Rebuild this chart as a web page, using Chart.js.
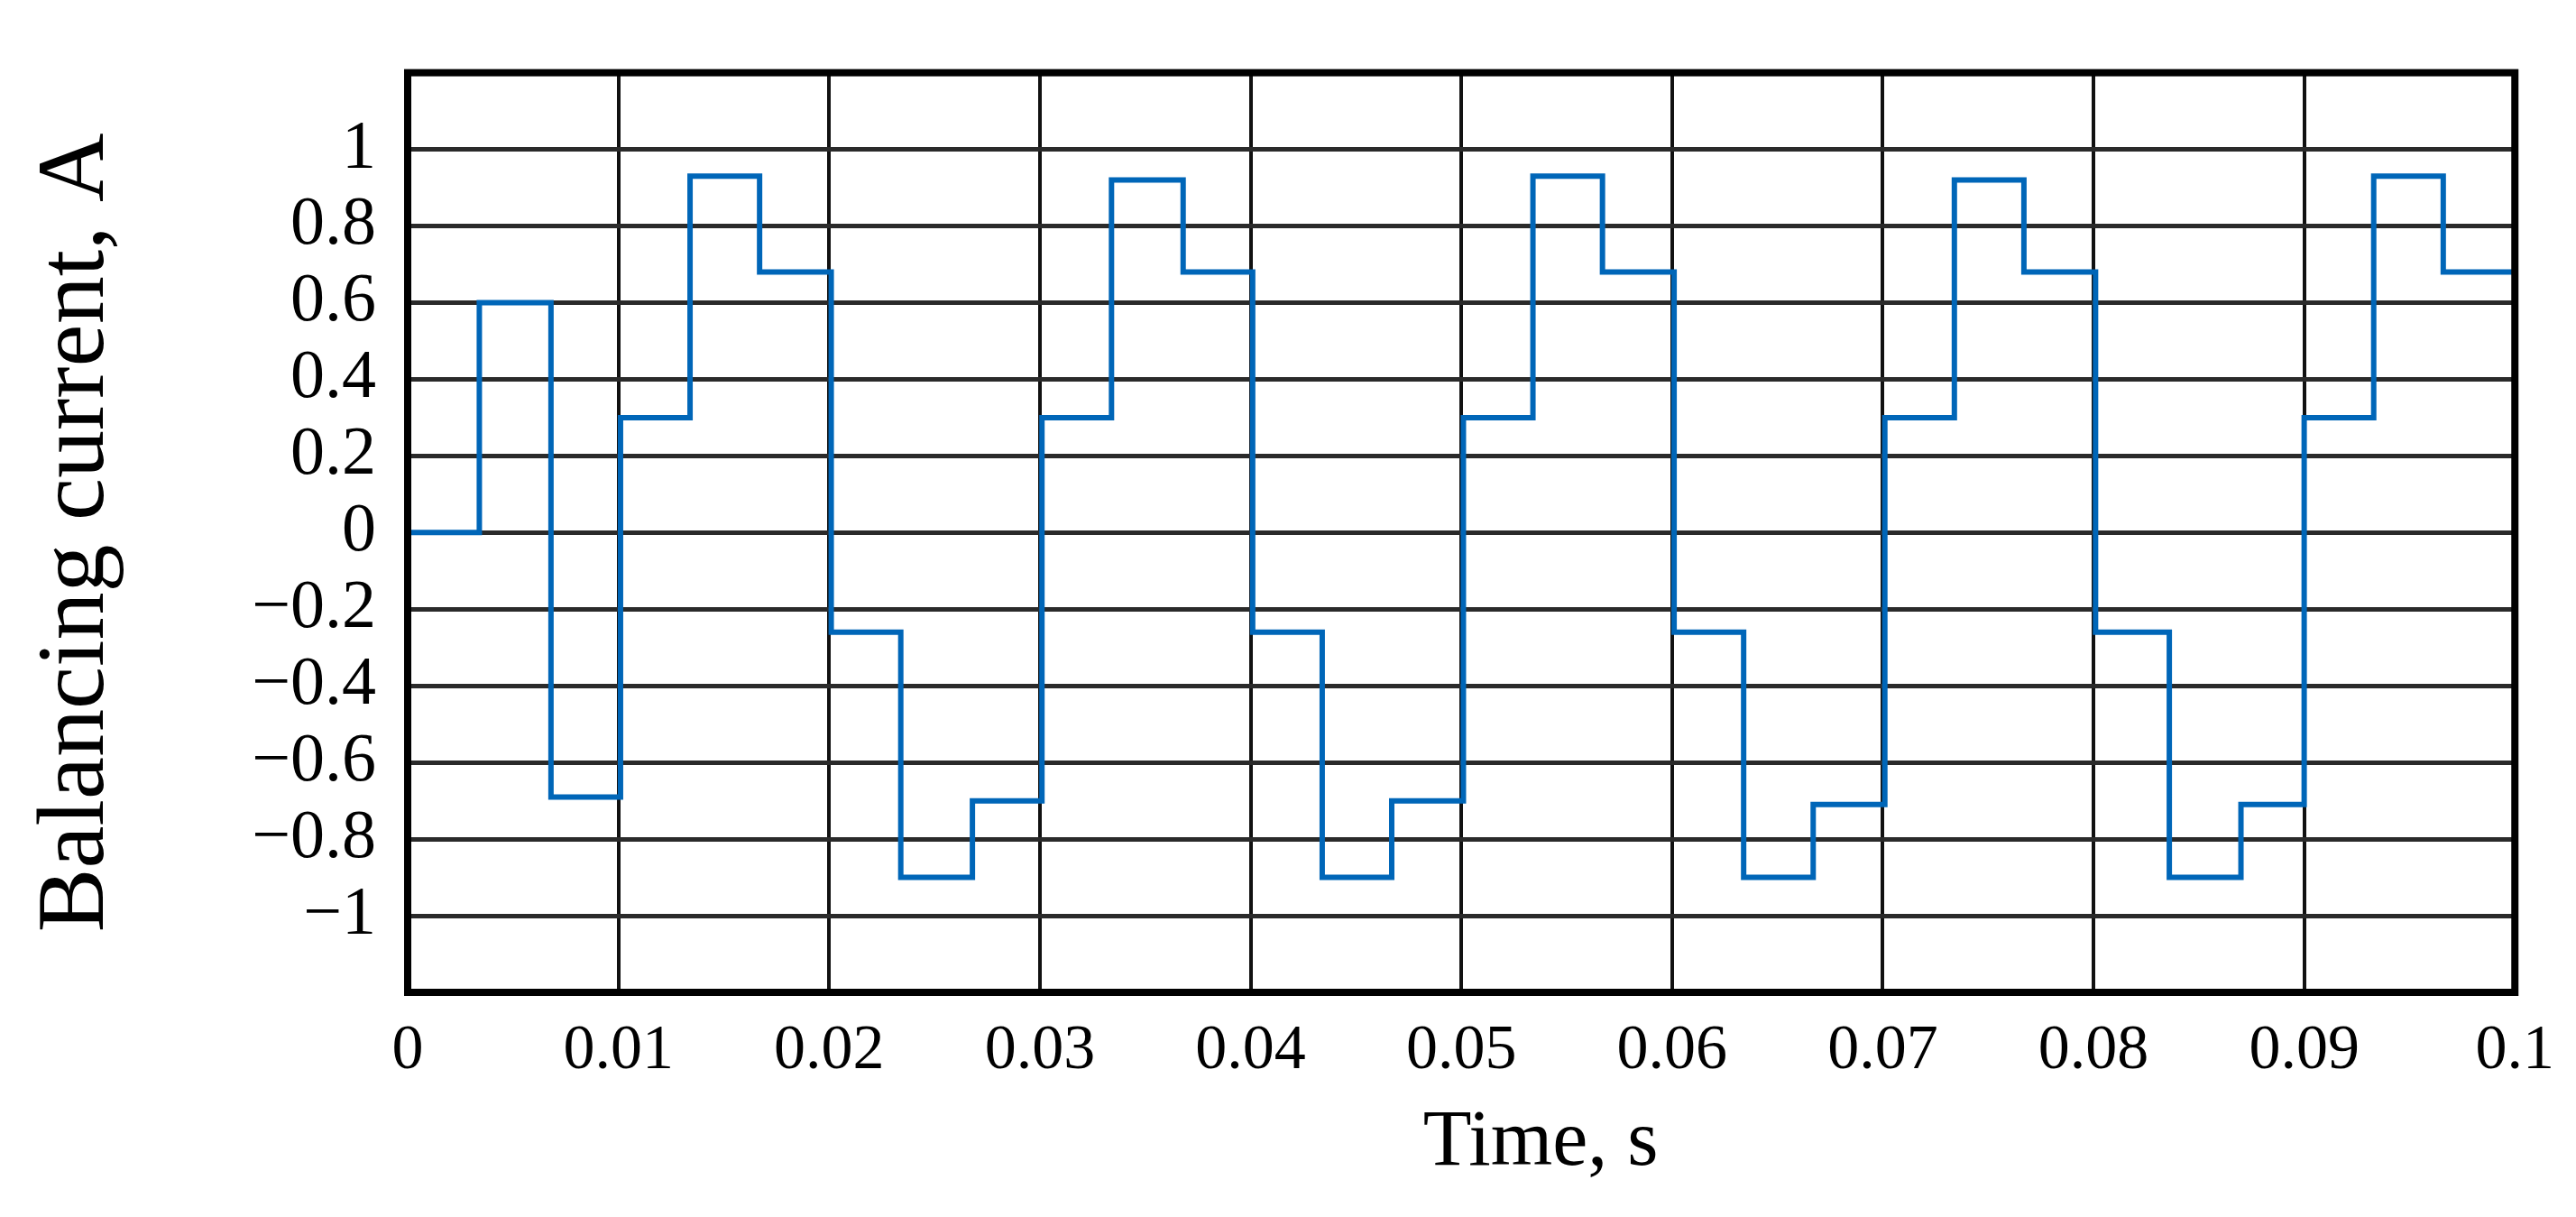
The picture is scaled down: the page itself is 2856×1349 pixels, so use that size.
<!DOCTYPE html>
<html>
<head>
<meta charset="utf-8">
<script src="https://cdn.jsdelivr.net/npm/chart.js@4.4.1/dist/chart.umd.min.js"></script>
<style>
  html,body{margin:0;padding:0;background:#fff;}
  #wrap{width:2856px;height:1349px;}
</style>
</head>
<body>
<div id="wrap"><canvas id="c" width="2856" height="1349"></canvas></div>
<script>
/* --- DATA --- */
// switching instants, s
const stepTimes = [0, 0.0034, 0.0068, 0.0101, 0.0134, 0.0167,
  0.0201, 0.0234, 0.0268, 0.0301, 0.0334, 0.0368,
  0.0401, 0.0434, 0.0467, 0.0501, 0.0534, 0.0567,
  0.0601, 0.0634, 0.0667, 0.0701, 0.0734, 0.0767,
  0.0801, 0.0836, 0.0870, 0.0900, 0.0933, 0.0966, 0.1];
// current level held from each instant, A
const stepLevels = [0, 0.6, -0.69, 0.3, 0.93, 0.68,
  -0.26, -0.9, -0.7, 0.3, 0.92, 0.68,
  -0.26, -0.9, -0.7, 0.3, 0.93, 0.68,
  -0.26, -0.9, -0.71, 0.3, 0.92, 0.68,
  -0.26, -0.9, -0.71, 0.3, 0.93, 0.68, 0.68];

// leading spaces nudge the title right, as in the source figure
const xTitle = '\u00a0\u00a0\u00a0\u00a0\u00a0\u00a0\u00a0\u00a0Time, s';
const yTitle = 'Balancing current, A';

/* --- STYLE --- */
const serif = '"Liberation Serif","Times New Roman",serif';
const fmt = v => {
  const r = Math.round(v*100)/100;
  return String(r).replace('-', '\u2212');
};

/* frame round the plot area */
const frame = {
  id:'frame',
  afterDraw(chart){
    const a = chart.chartArea, ctx = chart.ctx;
    ctx.save();
    ctx.strokeStyle = '#000';
    ctx.lineWidth = 8;
    ctx.strokeRect(a.left, a.top, a.right - a.left, a.bottom - a.top);
    ctx.restore();
  }
};

new Chart(document.getElementById('c'), {
  type:'line',
  data:{datasets:[{
    data: stepTimes.map((t,i)=>({x:t, y:stepLevels[i]})),
    stepped:'before',
    borderColor:'#0066b8',
    borderWidth:6,
    pointRadius:0,
    fill:false
  }]},
  options:{
    responsive:false,
    animation:false,
    devicePixelRatio:1,
    layout:{padding:{left:23, top:80, right:60, bottom:28}},
    plugins:{legend:{display:false}, tooltip:{enabled:false}},
    scales:{
      x:{
        type:'linear', min:0, max:0.1,
        afterFit:s=>{ s.height = 221; },
        ticks:{stepSize:0.01, padding:24, color:'#000',
          font:{family:serif, size:70}, callback:v=>fmt(v), maxRotation:0, autoSkip:false},
        grid:{color:'#111', lineWidth:4, drawTicks:false},
        border:{display:false},
        title:{display:true, text:xTitle, color:'#000', padding:0,
          font:{family:serif, size:88}}
      },
      y:{
        min:-1.2, max:1.2,
        afterFit:s=>{ s.width = 429; },
        ticks:{stepSize:0.2, padding:35, color:'#000', autoSkip:false,
          font:{family:serif, size:76},
          callback:v=> Math.abs(v) > 1.01 ? '' : fmt(v)},
        grid:{color:'#2a2a2a', lineWidth:5, drawTicks:false},
        border:{display:false},
        title:{display:true, text:yTitle, color:'#000', padding:0,
          font:{family:serif, size:106}}
      }
    }
  },
  plugins:[frame]
});
</script>
</body>
</html>
